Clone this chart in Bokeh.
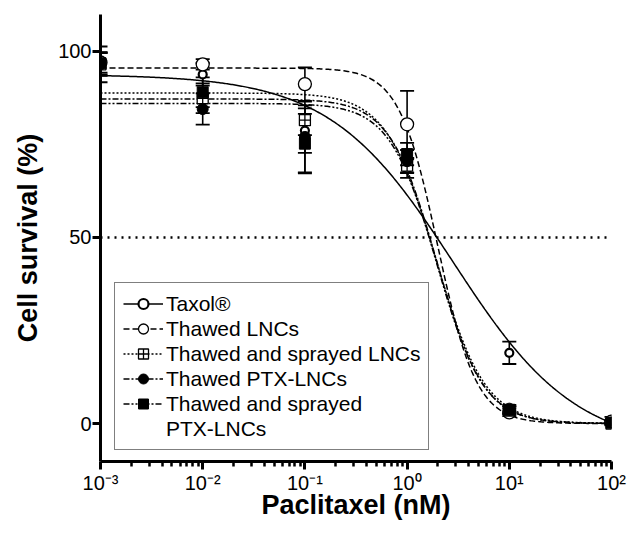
from bokeh.plotting import figure
from bokeh.models import (ColumnDataSource, Whisker, TeeHead, Legend, LegendItem,
                          FixedTicker, Range1d, Span)
from bokeh.embed import file_html
from bokeh.resources import INLINE
import numpy as np

# ---- data ----
concentrations = [1e-3, 1e-2, 1e-1, 1e0, 1e1, 1e2]   # nM

taxol_mean = [96.5, 93.8, 78.7, 68.5, 19.0, 1.0]
taxol_err = [4.8, 3.0, 6.0, 2.5, 3.0, 0.8]

thawed_lnc_mean = [97.0, 96.5, 91.2, 80.4, 3.0, 0.5]
thawed_lnc_err = [2.7, 1.4, 4.5, 9.0, 1.0, 0.5]

sprayed_lnc_mean = [96.5, 87.4, 81.5, 69.3, 3.5, 0.0]
sprayed_lnc_err = [3.0, 4.0, 4.0, 2.0, 1.0, 0.5]

ptx_lnc_mean = [96.5, 84.5, 77.0, 70.5, 4.0, 0.3]
ptx_lnc_err = [3.0, 4.2, 9.5, 3.0, 1.0, 0.5]

sprayed_ptx_mean = [96.8, 89.0, 75.2, 72.4, 3.7, 0.2]
sprayed_ptx_err = [3.0, 4.0, 8.0, 3.0, 1.0, 0.5]

# four-parameter logistic fits (top, bottom, logEC50, Hill slope)
fit_top = [93.8, 95.5, 88.8, 87.2, 86.0]
fit_bottom = [-7.0, 0.0, 0.0, 0.0, 0.0]
fit_logec50 = [0.45, 0.30, 0.28, 0.29, 0.29]
fit_hill = [0.72, 2.3, 1.8, 1.9, 1.9]

series_names = ["Taxol®", "Thawed LNCs", "Thawed and sprayed LNCs",
                "Thawed PTX-LNCs", "Thawed and sprayed"]
extra_legend_line = "PTX-LNCs"

x_tick_values = [1e-3, 1e-2, 1e-1, 1e0, 1e1, 1e2]
x_tick_labels = ["10⁻³", "10⁻²", "10⁻¹", "10⁰", "10¹", "10²"]
y_tick_values = [0, 50, 100]

FONT = "Liberation Sans"

p = figure(frame_width=511, frame_height=447, x_axis_type="log",
           x_range=Range1d(1e-3, 1e2), y_range=Range1d(-10.2, 109.9),
           output_backend="svg", toolbar_location=None,
           min_border_left=100, min_border_right=17, min_border_top=14, min_border_bottom=40)
p.outline_line_color = None
p.xgrid.visible = False
p.ygrid.visible = False
p.background_fill_color = "white"
p.border_fill_color = "white"

# 50% reference line
p.add_layout(Span(location=50, dimension="width", line_color="black",
                  line_width=2.5, line_dash="2 5"))

means = [taxol_mean, thawed_lnc_mean, sprayed_lnc_mean, ptx_lnc_mean, sprayed_ptx_mean]
errs = [taxol_err, thawed_lnc_err, sprayed_lnc_err, ptx_lnc_err, sprayed_ptx_err]
dashes = ["solid", "6 3", "2 2", "6 2 2 2", "6 2 2 2 2 2"]
markers = ["circle", "circle", "square_cross", "circle", "square"]
msize = [8, 13, 11, 11, 11]
mfill = ["white", "white", "white", "black", "black"]
mlw = [2.2, 1.3, 1.3, 1.0, 1.0]

xs = np.logspace(-3, 2, 400)
items = []
line_rs = []
scat_rs = []
for i in range(5):
    ys = fit_bottom[i] + (fit_top[i] - fit_bottom[i]) / (1 + 10 ** ((np.log10(xs) - fit_logec50[i]) * fit_hill[i]))
    lr = p.line(xs, ys, line_color="black", line_width=1.5, line_dash=dashes[i])
    line_rs.append(lr)

for i in range(5):
    src = ColumnDataSource(dict(x=concentrations, y=means[i],
                                up=[m + e for m, e in zip(means[i], errs[i])],
                                lo=[m - e for m, e in zip(means[i], errs[i])]))
    w = Whisker(source=src, base="x", upper="up", lower="lo", dimension="height",
                line_color="black", line_width=1.6,
                upper_head=TeeHead(size=14, line_width=1.8, line_color="black"),
                lower_head=TeeHead(size=14, line_width=1.8, line_color="black"))
    p.add_layout(w)

for i in range(5):
    src = ColumnDataSource(dict(x=concentrations, y=means[i]))
    sr = p.scatter("x", "y", source=src, marker=markers[i], size=msize[i],
                   fill_color=mfill[i], line_color="black", line_width=mlw[i])
    scat_rs.append(sr)

for i in range(5):
    items.append(LegendItem(label=series_names[i], renderers=[line_rs[i], scat_rs[i]]))
blank = p.line([1e-3], [0], line_alpha=0)
items.append(LegendItem(label=extra_legend_line, renderers=[blank]))

legend = Legend(items=items, location=(14, 11), orientation="vertical",
                label_text_font=FONT, label_text_font_size="21px",
                label_text_color="black", label_height=25, glyph_height=25,
                glyph_width=40, spacing=0, padding=8, margin=0, label_standoff=3,
                border_line_color="black", border_line_width=1.2,
                background_fill_color="white", background_fill_alpha=1.0)
p.add_layout(legend, "center")

# axes
for ax in (p.xaxis[0], p.yaxis[0]):
    ax.axis_line_width = 3
    ax.axis_line_color = "black"
    ax.major_tick_line_width = 3
    ax.major_tick_out = 8
    ax.major_tick_in = 0
    ax.major_label_text_font = FONT
    ax.major_label_text_font_size = "20px"
    ax.major_label_text_color = "black"
    ax.axis_label_text_font = FONT
    ax.axis_label_text_font_size = "27px"
    ax.axis_label_text_font_style = "bold"
    ax.axis_label_text_color = "black"

minor = [m * 10.0 ** e for e in range(-3, 2) for m in range(2, 10)]
p.xaxis.ticker = FixedTicker(ticks=x_tick_values, minor_ticks=minor)
p.xaxis.major_label_overrides = {v: l for v, l in zip(x_tick_values, x_tick_labels)}
p.xaxis.minor_tick_line_width = 2.5
p.xaxis.minor_tick_out = 5
p.xaxis.minor_tick_in = 0
p.xaxis.axis_label = "Paclitaxel (nM)"
p.xaxis.major_label_standoff = 2
p.xaxis.axis_label_standoff = -7

p.yaxis.ticker = FixedTicker(ticks=y_tick_values, minor_ticks=[])
p.yaxis.axis_label = "Cell survival (%)"
p.yaxis.major_label_standoff = 1
p.yaxis.axis_label_standoff = 12
p.yaxis.major_label_orientation = "horizontal"

open("out.html", "w").write(file_html(p, INLINE))
